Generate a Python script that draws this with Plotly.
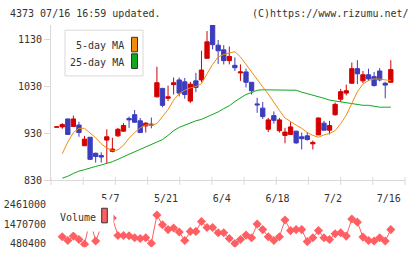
import plotly.graph_objects as go

# ---------------- data ----------------
dates = ["4/18", "4/19", "4/22", "4/23", "4/24", "4/25", "4/26", "4/30", "5/1", "5/2",
         "5/7", "5/8", "5/9", "5/10", "5/13", "5/14", "5/15", "5/16", "5/17", "5/20",
         "5/21", "5/22", "5/23", "5/24", "5/27", "5/28", "5/29", "5/30", "5/31", "6/3",
         "6/4", "6/5", "6/6", "6/7", "6/10", "6/11", "6/12", "6/13", "6/14", "6/17",
         "6/18", "6/19", "6/20", "6/21", "6/24", "6/25", "6/26", "6/27", "6/28", "7/1",
         "7/2", "7/3", "7/4", "7/5", "7/8", "7/9", "7/10", "7/11", "7/12", "7/15",
         "7/16"]

open_ = [942.5, 943, 960, 944, 947, 903, 921, 887, 882, 915,
         891, 924, 934, 961, 969, 956, 945, 949, 1007, 1025,
         1004, 1033, 1043, 1039, 998, 1041, 1043, 1089, 1165, 1117,
         1107, 1084, 1074, 1058, 1060, 1038, 992, 983, 938, 967,
         935, 925, 927, 934, 922, 924, 907, 926, 951, 936,
         969, 1002, 1015, 1036, 1067, 1041, 1054, 1050, 1062, 1036,
         1038]
high = [944, 951, 960, 967, 954, 924, 921, 888, 889, 938,
        920, 941, 951, 965, 979, 962, 953, 963, 1071, 1026,
        1031, 1048, 1048, 1047, 1039, 1058, 1105, 1147, 1165, 1128,
        1117, 1114, 1091, 1076, 1067, 1038, 1005, 996, 962, 976,
        962, 941, 953, 934, 931, 932, 914, 963, 956, 956,
        995, 1024, 1033, 1080, 1085, 1062, 1067, 1060, 1068, 1039,
        1085]
low = [942, 939, 927, 943, 922, 903, 874, 867, 867, 865,
       889, 922, 933, 941, 952, 930, 931, 940, 1006, 985,
       998, 1012, 1008, 1003, 994, 1017, 1038, 1089, 1108, 1077,
       1076, 1076, 1062, 1041, 1027, 1012, 973, 960, 932, 950,
       931, 908, 927, 907, 895, 914, 895, 926, 936, 927,
       967, 996, 1010, 1035, 1034, 1036, 1041, 1029, 1040, 1004,
       1038]
close = [943, 948, 927, 960, 931, 917, 874, 880, 879, 922,
         896, 938, 946, 958, 953, 931, 951, 947, 1037, 989,
         1007, 1037, 1015, 1012, 1034, 1027, 1064, 1124, 1118, 1105,
         1084, 1093, 1069, 1060, 1038, 1020, 990, 965, 958, 957,
         958, 932, 943, 909, 918, 916, 910, 962, 936, 946,
         991, 1018, 1020, 1067, 1056, 1054, 1045, 1031, 1043, 1032,
         1065]

ma5 = [886, 911, 931, 940, 940, 931, 920, 907, 898, 893,
       894, 904, 919, 931, 941, 947, 947, 950, 964, 980,
       1000, 1014, 1021, 1026, 1029, 1035, 1056, 1076, 1092, 1097,
       1100, 1103, 1092, 1076, 1059, 1042, 1028, 1013, 994, 978,
       962, 954, 947, 940, 931, 925, 921, 926, 929, 935,
       950, 968, 994, 1018, 1034, 1042, 1045, 1045, 1043, 1042]
ma25 = [834, 838, 844, 849, 852, 856, 859, 862, 865, 869,
        874, 880, 885, 890, 895, 900, 905, 911, 916, 925,
        935, 942, 947, 952, 956, 959, 964, 969, 975, 982,
        988, 997, 1005, 1012, 1016, 1021, 1022, 1022, 1022, 1022,
        1022, 1022, 1021, 1017, 1014, 1011, 1007, 1004, 1000, 998,
        996, 994, 993, 991, 989, 989, 987, 985, 985, 985]
volume = [830000, 640000, 860000, 690000, 450000, 1680000, 610000, 1340000, 1630000, 1780000,
          890000, 890000, 880000, 780000, 740000, 780000, 500000, 1930000, 1440000, 1190000,
          1270000, 1070000, 640000, 1100000, 1100000, 1600000, 1300000, 1300000, 1030000, 1030000,
          740000, 480000, 690000, 910000, 780000, 1470000, 1190000, 830000, 640000, 830000,
          1680000, 1140000, 1190000, 1190000, 580000, 780000, 1140000, 780000, 690000, 980000,
          1030000, 860000, 1730000, 1570000, 810000, 640000, 610000, 780000, 610000, 1190000]

date_ticks = ["5/7", "5/21", "6/4", "6/18", "7/2", "7/16"]
price_ticks = [830, 930, 1030, 1130]
volume_ticks = [480400, 1470700, 2461000]

# ---------------- styling ----------------
W, H = 420, 259
FONT = "DejaVu Sans Mono"
TXT = "#333333"
AXC = "#d9d9d9"
RED = "#d40000"
BLUE = "#3c3cbe"
ORANGE = "#f08c10"
GREEN = "#10a81e"
VOLC = "#ff5f62"


def px(x):
    return x / W


def py(y):
    return 1 - y / H


XL, XR = 51, 405
XRANGE = [-1.02, 62.55]

fig = go.Figure()

fig.add_trace(go.Candlestick(
    x=dates, open=open_, high=high, low=low, close=close,
    increasing=dict(line=dict(color=RED, width=1), fillcolor=RED),
    decreasing=dict(line=dict(color=BLUE, width=1), fillcolor=BLUE),
    whiskerwidth=0, showlegend=False, hoverinfo="skip",
    xaxis="x", yaxis="y"))

fig.add_trace(go.Scatter(x=dates[1:], y=ma25, mode="lines",
                         line=dict(color=GREEN, width=1), showlegend=False,
                         xaxis="x", yaxis="y"))
fig.add_trace(go.Scatter(x=dates[1:], y=ma5, mode="lines",
                         line=dict(color=ORANGE, width=1), showlegend=False,
                         xaxis="x", yaxis="y"))

fig.add_trace(go.Scatter(x=dates[1:], y=volume, mode="lines+markers",
                         line=dict(color=VOLC, width=1),
                         marker=dict(symbol="diamond", size=7, color=VOLC, line=dict(width=0)),
                         showlegend=False, xaxis="x2", yaxis="y2"))

axfont = dict(family=FONT, size=10, color=TXT)

fig.update_layout(
    width=W, height=H,
    margin=dict(l=0, r=0, t=0, b=0),
    paper_bgcolor="white", plot_bgcolor="white",
    boxgap=0.12, boxgroupgap=0.12,
    xaxis=dict(domain=[px(XL), px(XR)], type="category", range=XRANGE,
               rangeslider=dict(visible=False),
               showgrid=False, zeroline=False, showline=True, linecolor=AXC, linewidth=1,
               tickmode="array", tickvals=date_ticks, ticktext=date_ticks,
               ticks="outside", ticklen=9, tickcolor="rgba(0,0,0,0)",
               ticklabelshift=-2,
               tickfont=axfont, anchor="y"),
    yaxis=dict(domain=[py(184), py(24.6)], range=[830, 1160],
               showgrid=False, zeroline=False, showline=True, linecolor=AXC, linewidth=1,
               tickmode="array", tickvals=price_ticks, ticktext=[str(v) for v in price_ticks],
               ticks="outside", ticklen=6,
               tickcolor=AXC, tickfont=axfont, anchor="x"),
    xaxis2=dict(domain=[px(XL), px(XR)], type="category", range=XRANGE,
                matches="x", visible=False, anchor="y2"),
    yaxis2=dict(domain=[py(253), py(205)], range=[297140, 2674580],
                showgrid=False, zeroline=False, showline=False,
                tickmode="array", tickvals=volume_ticks,
                ticktext=[str(v) for v in volume_ticks], ticks="",
                ticklabelstandoff=4,
                tickfont=axfont, anchor="x2"),
)

shapes = []
# x-axis grid ticks (evenly spaced divisions)
for k in range(12):
    xx = XL + k * (XR - XL) / 11
    shapes.append(dict(type="line", xref="paper", yref="paper",
                       x0=px(xx), x1=px(xx), y0=py(181), y1=py(189),
                       line=dict(color=AXC, width=1)))
# price legend box
shapes.append(dict(type="rect", xref="paper", yref="paper",
                   x0=px(65), x1=px(143), y0=py(77), y1=py(30),
                   line=dict(color=AXC, width=1), fillcolor="white", layer="above"))
shapes.append(dict(type="rect", xref="paper", yref="paper",
                   x0=px(131.5), x1=px(137.5), y0=py(52.3), y1=py(37.3),
                   line=dict(color="#333", width=1), fillcolor=ORANGE, layer="above"))
shapes.append(dict(type="rect", xref="paper", yref="paper",
                   x0=px(131.5), x1=px(137.5), y0=py(69.3), y1=py(54.3),
                   line=dict(color="#333", width=1), fillcolor=GREEN, layer="above"))
# volume legend cover + swatch
shapes.append(dict(type="rect", xref="paper", yref="paper",
                   x0=px(55), x1=px(113.5), y0=py(237), y1=py(204),
                   line=dict(width=0), fillcolor="white", layer="above"))
shapes.append(dict(type="rect", xref="paper", yref="paper",
                   x0=px(101.7), x1=px(107.3), y0=py(228), y1=py(213),
                   line=dict(color="#333", width=1), fillcolor=VOLC, layer="above"))
fig.update_layout(shapes=shapes)

anns = [
    dict(text="4373 07/16 16:59 updated.", x=px(8), y=py(12.5), xanchor="left"),
    dict(text="(C)https://www.rizumu.net/", x=px(411), y=py(12.5), xanchor="right"),
    dict(text="5-day MA", x=px(125.5), y=py(46), xanchor="right"),
    dict(text="25-day MA", x=px(125.5), y=py(63.3), xanchor="right"),
    dict(text="Volume", x=px(58), y=py(222.5), xanchor="left"),
]
for a in anns:
    a.update(xref="paper", yref="paper", yanchor="middle", showarrow=False,
             font=dict(family=FONT, size=10, color=TXT))
fig.update_layout(annotations=anns)

fig.write_html("out.html")
